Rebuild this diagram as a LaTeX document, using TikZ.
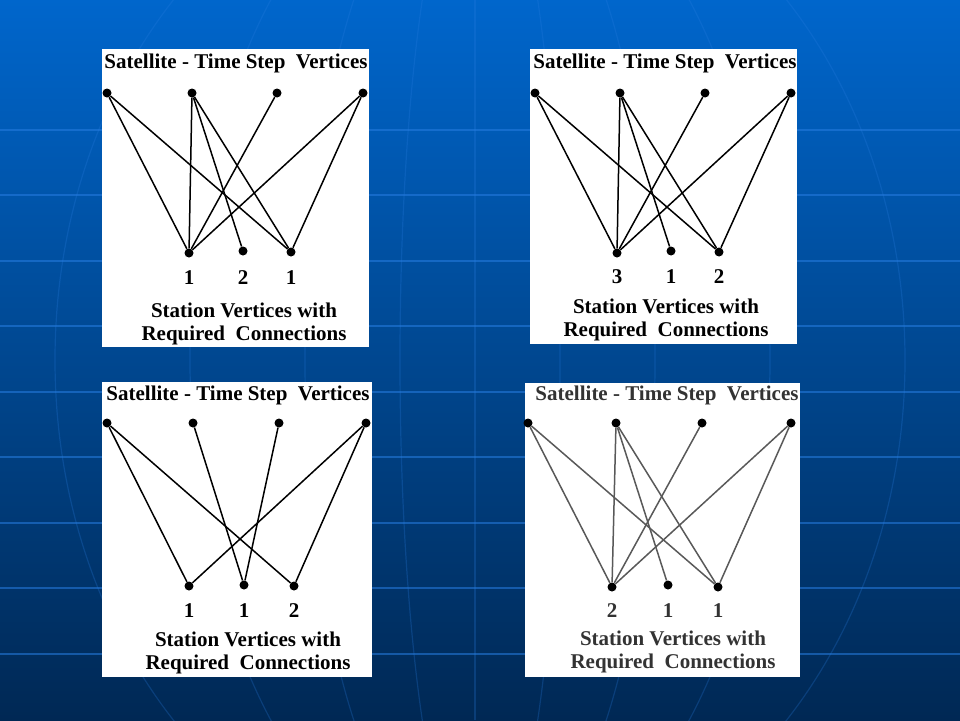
\documentclass[tikz,border=0pt]{standalone}
\usepackage{fontspec}
\setmainfont{Liberation Serif}
\usetikzlibrary{positioning}
\definecolor{slidetop}{RGB}{0,102,204}
\definecolor{slidebottom}{RGB}{0,40,84}
\definecolor{gridblue}{RGB}{40,125,225}
\tikzstyle{panel} = [fill=white, draw=none]
\tikzstyle{vertex} = [circle, 
fill=black, 
inner sep=0pt, 
minimum size=9pt]
\tikzstyle{heading} = [inner sep=0pt, 
font=\fontsize{21}{23}\selectfont\bfseries]
\tikzstyle{count} = [inner sep=0pt, 
font=\fontsize{21}{23}\selectfont\bfseries]
\tikzstyle{caption} = [inner sep=0pt, 
align=center, 
font=\fontsize{21}{23}\selectfont\bfseries]
\tikzstyle{edge} = [line width=1.5pt, black]
\tikzstyle{gridline} = [line width=1.3pt, gridblue, opacity=0.55]
\tikzstyle{meridian} = [line width=1.2pt, gridblue, opacity=0.25]
\begin{document}
\begin{tikzpicture}[x=1pt, y=-1pt]
\useasboundingbox (0,0) rectangle (960,720);

% slide background
\fill[top color=slidetop, bottom color=slidebottom] (0,0) rectangle (960,720);
\draw[gridline] (0,130) -- (960,130) (0,195) -- (960,195) (0,261) -- (960,261)
  (0,326) -- (960,326) (0,392) -- (960,392) (0,457) -- (960,457)
  (0,523) -- (960,523) (0,588) -- (960,588) (0,654) -- (960,654);
\draw[meridian] (475,0) -- (475,720);
\draw[meridian] (480,360) ellipse [x radius=80, y radius=520];
\draw[meridian] (480,360) ellipse [x radius=175, y radius=520];
\draw[meridian] (480,360) ellipse [x radius=290, y radius=520];
\draw[meridian] (480,360) ellipse [x radius=425, y radius=520];

% panel 1 (top left)
\fill[panel] (102,49) rectangle (369,347);
\node (p1title) [heading] at (236,63) {Satellite - Time Step\ \ Vertices};
\node (p1t1) [vertex] at (107,93) {};
\node (p1t2) [vertex] at (192,93) {};
\node (p1t3) [vertex] at (277,93) {};
\node (p1t4) [vertex] at (363,93) {};
\node (p1s1) [vertex] at (189,253) {};
\node (p1s2) [vertex] at (243,251) {};
\node (p1s3) [vertex] at (291,252) {};
\node (p1n1) [count, below=13pt of p1s1] {1};
\node (p1n2) [count, below=15pt of p1s2] {2};
\node (p1n3) [count, below=14pt of p1s3] {1};
\node (p1cap) [caption] at (244,324) {Station Vertices with\\Required\ \ Connections};
\draw [edge] (p1t1) -- (p1s1);
\draw [edge] (p1t1) -- (p1s3);
\draw [edge] (p1t2) -- (p1s1);
\draw [edge] (p1t2) -- (p1s2);
\draw [edge] (p1t2) -- (p1s3);
\draw [edge] (p1t3) -- (p1s1);
\draw [edge] (p1t4) -- (p1s1);
\draw [edge] (p1t4) -- (p1s3);

% panel 2 (top right)
\fill[panel] (530,49) rectangle (797,344);
\node (p2title) [heading] at (665,63) {Satellite - Time Step\ \ Vertices};
\node (p2t1) [vertex] at (535,93) {};
\node (p2t2) [vertex] at (620,93) {};
\node (p2t3) [vertex] at (705,93) {};
\node (p2t4) [vertex] at (791,93) {};
\node (p2s1) [vertex] at (617,253) {};
\node (p2s2) [vertex] at (671,251) {};
\node (p2s3) [vertex] at (719,252) {};
\node (p2n1) [count, below=12pt of p2s1] {3};
\node (p2n2) [count, below=14pt of p2s2] {1};
\node (p2n3) [count, below=13pt of p2s3] {2};
\node (p2cap) [caption] at (666,320) {Station Vertices with\\Required\ \ Connections};
\draw [edge] (p2t1) -- (p2s1);
\draw [edge] (p2t1) -- (p2s3);
\draw [edge] (p2t2) -- (p2s1);
\draw [edge] (p2t2) -- (p2s2);
\draw [edge] (p2t2) -- (p2s3);
\draw [edge] (p2t3) -- (p2s1);
\draw [edge] (p2t4) -- (p2s1);
\draw [edge] (p2t4) -- (p2s3);

% panel 3 (bottom left)
\fill[panel] (102,382) rectangle (372,677);
\node (p3title) [heading] at (238,395) {Satellite - Time Step\ \ Vertices};
\node (p3t1) [vertex] at (107,423) {};
\node (p3t2) [vertex] at (193,423) {};
\node (p3t3) [vertex] at (279,423) {};
\node (p3t4) [vertex] at (366,423) {};
\node (p3s1) [vertex] at (189,586) {};
\node (p3s2) [vertex] at (244,585) {};
\node (p3s3) [vertex] at (294,586) {};
\node (p3n1) [count, below=13pt of p3s1] {1};
\node (p3n2) [count, below=14pt of p3s2] {1};
\node (p3n3) [count, below=13pt of p3s3] {2};
\node (p3cap) [caption] at (248,653) {Station Vertices with\\Required\ \ Connections};
\draw [edge] (p3t1) -- (p3s1);
\draw [edge] (p3t1) -- (p3s3);
\draw [edge] (p3t2) -- (p3s2);
\draw [edge] (p3t3) -- (p3s2);
\draw [edge] (p3t4) -- (p3s1);
\draw [edge] (p3t4) -- (p3s3);

% panel 4 (bottom right), a greyer copy
\fill[panel] (525,383) rectangle (800,677);
\begin{scope}[every node/.append style={text=black!80}]
\node (p4title) [heading] at (667,395) {Satellite - Time Step\ \ Vertices};
\node (p4t1) [vertex] at (528,423) {};
\node (p4t2) [vertex] at (616,423) {};
\node (p4t3) [vertex] at (702,423) {};
\node (p4t4) [vertex] at (791,423) {};
\node (p4s1) [vertex] at (612,587) {};
\node (p4s2) [vertex] at (668,585) {};
\node (p4s3) [vertex] at (718,587) {};
\node (p4n1) [count, below=12pt of p4s1] {2};
\node (p4n2) [count, below=14pt of p4s2] {1};
\node (p4n3) [count, below=12pt of p4s3] {1};
\node (p4cap) [caption] at (673,652) {Station Vertices with\\Required\ \ Connections};
\end{scope}
\draw [edge, black!65] (p4t1) -- (p4s1);
\draw [edge, black!65] (p4t1) -- (p4s3);
\draw [edge, black!65] (p4t2) -- (p4s1);
\draw [edge, black!65] (p4t2) -- (p4s2);
\draw [edge, black!65] (p4t2) -- (p4s3);
\draw [edge, black!65] (p4t3) -- (p4s1);
\draw [edge, black!65] (p4t4) -- (p4s1);
\draw [edge, black!65] (p4t4) -- (p4s3);
\end{tikzpicture}
\end{document}
